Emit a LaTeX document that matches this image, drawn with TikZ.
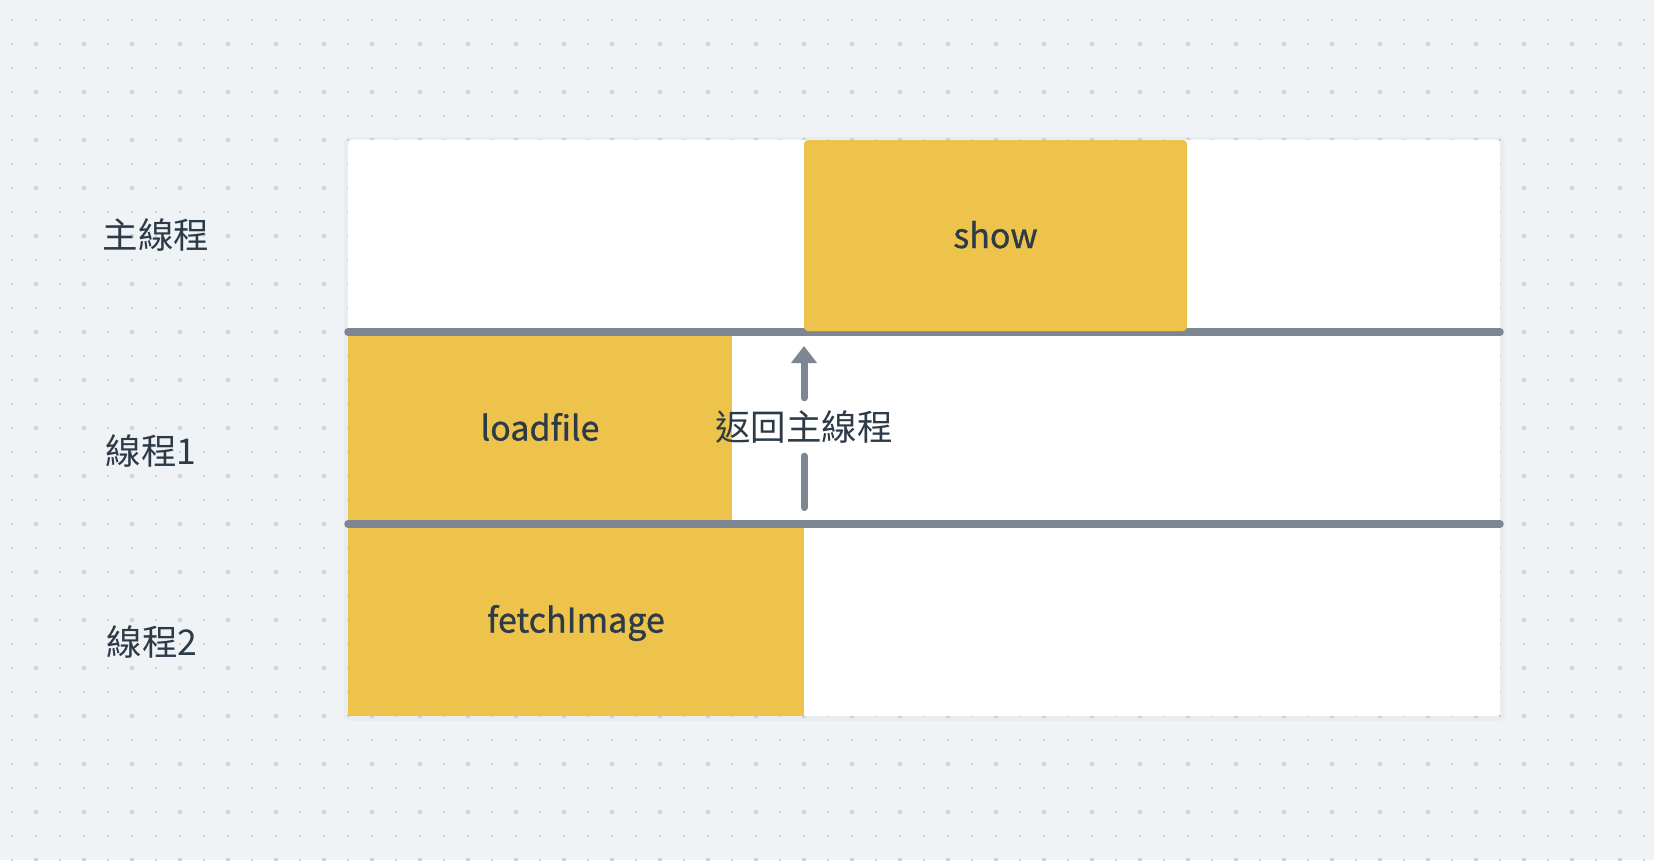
\documentclass[tikz,border=0pt]{standalone}
\usepackage{fontspec}
\setmainfont{Noto Sans CJK TC}
\newfontfamily\taskfont[FakeBold=0.9]{Noto Sans CJK TC}
\usetikzlibrary{arrows.meta}
\definecolor{bgc}{HTML}{EFF3F6}
\definecolor{dotsm}{HTML}{C3C8D0}
\definecolor{dotbig}{HTML}{CDD4E0}
\definecolor{ylw}{HTML}{EEC34B}
\definecolor{lanec}{HTML}{7D8794}
\definecolor{txt}{HTML}{2D3A48}
\tikzset{
  taskbox/.style={fill=ylw, draw=none, inner sep=0pt, outer sep=0pt, text=txt,
    font=\taskfont\fontsize{34bp}{40bp}\selectfont, text height=25bp, text depth=0pt},
  lanesep/.style={draw=lanec, line width=7.5bp, line cap=round},
  conn/.style={draw=lanec, line width=7bp, line cap=round},
  cjklabel/.style={text=txt, font=\fontsize{35.5bp}{40bp}\selectfont, inner sep=0pt}
}
\begin{document}
\begin{tikzpicture}[x=1bp,y=-1bp]
\fill[bgc] (0,0) rectangle (1654,860);
\useasboundingbox (0,0) rectangle (1654,860);
\foreach \i in {0,...,68} \foreach \j in {0,...,35}
  \fill[dotsm] ({12+24*\i},{20+24*\j}) circle[radius=1.1bp];
\foreach \i in {0,...,34} \foreach \j in {0,...,17}
  \fill[dotbig] ({36+48*\i},{44+48*\j}) circle[radius=2.3bp];
% panel
\fill[black, opacity=0.025, rounded corners=6bp] (344,137) rectangle (1505,721);
\node[fill=white, rounded corners=4bp, inner sep=0pt, outer sep=0pt,
  minimum width=1152bp, minimum height=576bp] (panel) at (924,428) {};
% tasks
\node[taskbox, minimum width=384bp, minimum height=192bp] (loadfile) at (540,428) {loadfile};
\node[taskbox, minimum width=456bp, minimum height=192bp] (fetch) at (576,620) {fetchImage};
% lanes
\coordinate (l1a) at (348,332); \coordinate (l1b) at (1500,332);
\coordinate (l2a) at (348,524); \coordinate (l2b) at (1500,524);
\draw[lanesep] (l1a) -- (l1b);
\draw[lanesep] (l2a) -- (l2b);
\node[taskbox, rounded corners=4bp, minimum width=383bp, minimum height=191bp] (show) at (995.5,235.5) {show};
% arrow
\node[cjklabel, minimum height=58bp] (ret) at (804,427) {返回主線程};
\coordinate (asrc) at (804,507.5);
\coordinate (atip) at (804,346);
\draw[conn] (asrc) -- (ret.south);
\draw[conn, -{Triangle[width=25bp,length=17bp]}] (ret.north) -- (atip);
% lane labels
\node[cjklabel] (lmain) at (156,235) {主線程};
\node[cjklabel] (lt1) at (151,451) {線程1};
\node[cjklabel] (lt2) at (152,642) {線程2};
\end{tikzpicture}
\end{document}
